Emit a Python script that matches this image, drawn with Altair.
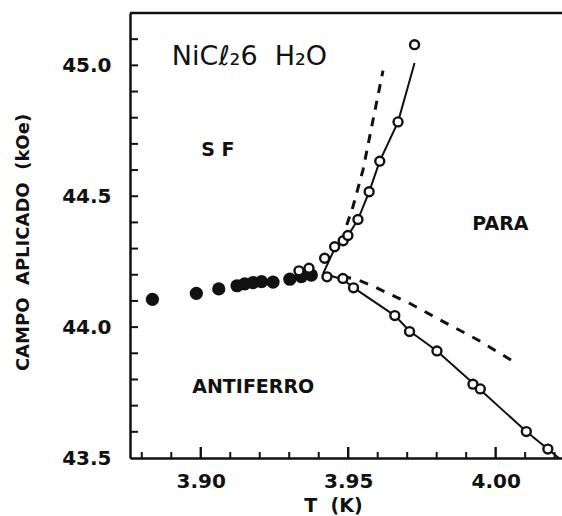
import altair as alt
import pandas as pd

# ---- data ----
T_FILLED = [3.8836, 3.8985, 3.9061, 3.9123, 3.9149, 3.9177, 3.9206, 3.9245, 3.9302, 3.9341, 3.9375]
H_FILLED = [44.106, 44.129, 44.146, 44.158, 44.165, 44.170, 44.174, 44.172, 44.183, 44.193, 44.199]

T_OPEN = [3.9333, 3.9367, 3.9420, 3.9454, 3.9483, 3.9499, 3.9533, 3.9571, 3.9607, 3.9669, 3.9725,
          3.9428, 3.9482, 3.9518, 3.9658, 3.9708, 3.9801, 3.9923, 3.9948, 4.0104, 4.0177]
H_OPEN = [44.215, 44.225, 44.263, 44.307, 44.330, 44.350, 44.411, 44.517, 44.634, 44.784, 45.079,
          44.192, 44.186, 44.150, 44.044, 43.983, 43.909, 43.782, 43.764, 43.601, 43.534]

T_UP_SOLID = [3.9415, 3.9454, 3.9497, 3.9533, 3.9571, 3.9607, 3.9669, 3.9725]
H_UP_SOLID = [44.205, 44.300, 44.345, 44.411, 44.517, 44.634, 44.784, 45.009]

T_LOW_SOLID = [3.9415, 3.9482, 3.9519, 3.9658, 3.9708, 3.9801, 3.9935, 4.0104, 4.0225]
H_LOW_SOLID = [44.205, 44.182, 44.150, 44.044, 43.985, 43.909, 43.774, 43.601, 43.490]

T_UP_DASH = [3.9495, 3.9516, 3.9550, 3.9584, 3.9618]
H_UP_DASH = [44.390, 44.460, 44.600, 44.790, 44.980]

T_LOW_DASH = [3.9480, 3.9533, 3.9584, 3.9646, 3.9708, 3.9816, 3.9940, 4.0070]
H_LOW_DASH = [44.195, 44.180, 44.157, 44.123, 44.091, 44.025, 43.951, 43.862]

X_MINOR_TICKS = [3.88, 3.89, 3.91, 3.92, 3.93, 3.94, 3.96, 3.97, 3.98, 3.99, 4.01, 4.02]
X_MAJOR_TICKS = [3.90, 3.95, 4.00]
Y_TICKS = [43.6, 43.7, 43.8, 43.9, 44.0, 44.1, 44.2, 44.3, 44.4, 44.5, 44.6, 44.7, 44.8, 44.9, 45.0, 45.1]
X_LABELS = [3.90, 3.95, 4.00]
Y_LABELS = [43.5, 44.0, 44.5, 45.0]

REGION_LABELS = ["S F", "PARA", "ANTIFERRO"]
REGION_T = [3.9058, 4.0016, 3.9178]
REGION_H = [44.676, 44.395, 43.773]

FORMULA = ["NiCℓ₂6\u00a0\u00a0H₂O"]
FORMULA_T = [3.8902]
FORMULA_H = [45.0]

# ---- chart ----
W, H = 432, 445
FONT = "DejaVu Sans"
INK = "#111111"

xs = alt.Scale(domain=[3.876, 4.0225], nice=False, zero=False)
ys = alt.Scale(domain=[43.5, 45.2], nice=False, zero=False)

xaxis = alt.Axis(values=X_LABELS, format=".2f", title="T\u00a0\u00a0(K)", ticks=False, tickSize=0,
                 grid=False, domainColor=INK, domainWidth=2.5, labelFont=FONT, labelFontWeight="bold",
                 labelFontSize=20, labelColor=INK, labelPadding=13, labelFlush=False,
                 titleFont=FONT, titleFontWeight="bold", titleFontSize=19, titleColor=INK,
                 titleX=203, titleY=47, titleBaseline="middle", titleAlign="center")
yaxis = alt.Axis(values=Y_LABELS, format=".1f", title="CAMPO\u00a0\u00a0APLICADO\u00a0\u00a0(kOe)",
                 ticks=False, tickSize=0, grid=False, domainColor=INK, domainWidth=2.5,
                 labelFont=FONT, labelFontWeight="bold", labelFontSize=20, labelColor=INK,
                 labelPadding=19, labelFlush=False,
                 titleFont=FONT, titleFontWeight="bold", titleFontSize=18, titleColor=INK,
                 titleAngle=270, titleX=-107, titleY=229, titleBaseline="middle", titleAlign="center")

X = lambda: alt.X("T:Q", scale=xs, axis=xaxis)
Y = lambda: alt.Y("H:Q", scale=ys, axis=yaxis)


def line_layer(ts, hs, dash=None, width=2.0):
    d = pd.DataFrame({"T": ts, "H": hs, "i": list(range(len(ts)))})
    kw = dict(color=INK, strokeWidth=width, clip=True)
    if dash:
        kw["strokeDash"] = dash
    return alt.Chart(d).mark_line(**kw).encode(x=X(), y=Y(), order="i:Q")


lines = [
    line_layer(T_UP_SOLID, H_UP_SOLID),
    line_layer(T_LOW_SOLID, H_LOW_SOLID),
    line_layer(T_UP_DASH, H_UP_DASH, dash=[9, 8], width=3),
    line_layer(T_LOW_DASH, H_LOW_DASH, dash=[9, 9], width=3),
]

filled = alt.Chart(pd.DataFrame({"T": T_FILLED, "H": H_FILLED})).mark_point(
    shape="circle", filled=True, color=INK, size=175, opacity=1
).encode(x=X(), y=Y())

opened = alt.Chart(pd.DataFrame({"T": T_OPEN, "H": H_OPEN})).mark_point(
    shape="circle", filled=False, fill="white", fillOpacity=1, stroke=INK, strokeWidth=2.4,
    size=80, opacity=1
).encode(x=X(), y=Y())

# inward axis ticks (tick marks are centred on their position, so shift by half their length)
xminor = alt.Chart(pd.DataFrame({"T": X_MINOR_TICKS})).mark_tick(
    color=INK, thickness=2, size=6, opacity=1
).encode(x=X(), y=alt.value(H - 3))
xmajor = alt.Chart(pd.DataFrame({"T": X_MAJOR_TICKS})).mark_tick(
    color=INK, thickness=2.4, size=11, opacity=1
).encode(x=X(), y=alt.value(H - 5.5))
yticks = alt.Chart(pd.DataFrame({"H": Y_TICKS})).mark_tick(
    color=INK, thickness=2, size=8, opacity=1
).encode(y=Y(), x=alt.value(4))
topframe = alt.Chart(pd.DataFrame({"H": [45.2]})).mark_rule(color=INK, strokeWidth=2.5).encode(y=Y())

regions = alt.Chart(pd.DataFrame({"T": REGION_T, "H": REGION_H, "label": REGION_LABELS})).mark_text(
    font=FONT, fontWeight="bold", fontSize=19, color=INK, align="center", baseline="middle"
).encode(x=X(), y=Y(), text="label:N")

formula = alt.Chart(pd.DataFrame({"T": FORMULA_T, "H": FORMULA_H, "label": FORMULA})).mark_text(
    font=FONT, fontWeight="normal", fontSize=27, color=INK, align="left", baseline="alphabetic"
).encode(x=X(), y=Y(), text="label:N")

chart = alt.layer(
    xminor, xmajor, yticks, topframe, *lines, filled, opened, regions, formula
).properties(
    width=W, height=H,
    padding={"left": 130, "top": 13, "right": 0, "bottom": 58},
    autosize=alt.AutoSizeParams(type="none"),
    background="white",
).configure_view(stroke=None)

chart.save("out.html", embed_options={"renderer": "svg", "actions": False})
